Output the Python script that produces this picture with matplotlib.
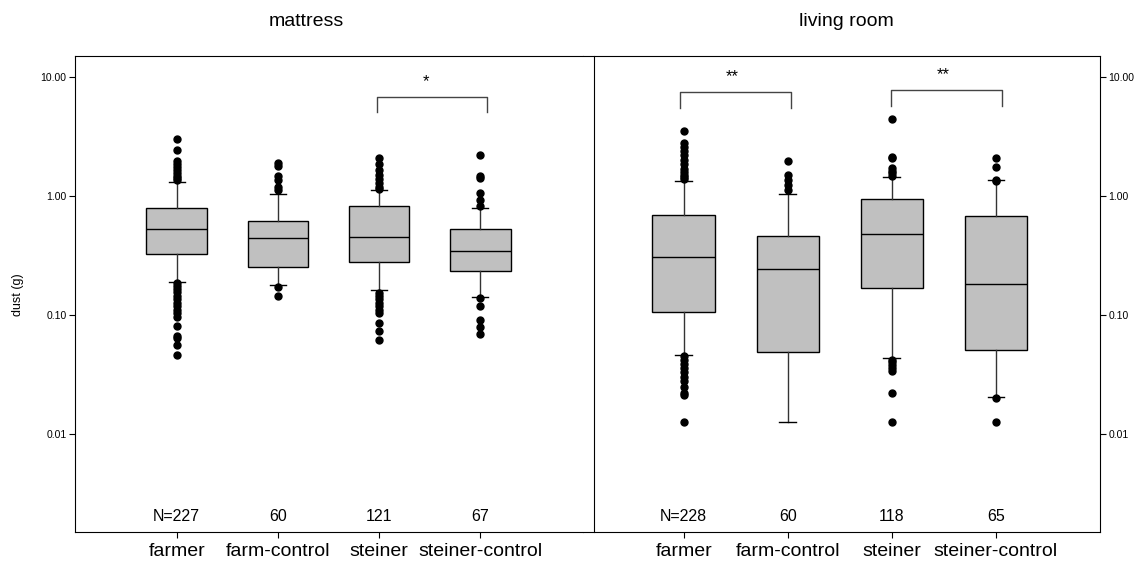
import matplotlib
matplotlib.use('Agg')
import matplotlib.pyplot as plt
import matplotlib.transforms as mtransforms

plt.rcParams['font.family'] = ['Liberation Sans', 'DejaVu Sans']

groups = ['farmer', 'farm-control', 'steiner', 'steiner-control']
positions = [1, 2, 3, 4]

# mattress
m_n = ['N=227', '60', '121', '67']
m_whislo = [0.191, 0.179, 0.161, 0.1425]
m_q1 = [0.326, 0.251, 0.277, 0.232]
m_med = [0.528, 0.444, 0.449, 0.342]
m_q3 = [0.787, 0.612, 0.818, 0.528]
m_whishi = [1.30, 1.045, 1.114, 0.793]
m_fliers = [
    [3.03, 2.41, 1.95, 1.85, 1.75, 1.65, 1.55, 1.48, 1.42, 1.36,
     0.185, 0.175, 0.165, 0.155, 0.145, 0.135, 0.125, 0.118, 0.11, 0.103, 0.097,
     0.080, 0.066, 0.064, 0.0564, 0.0464],
    [1.89, 1.77, 1.46, 1.37, 1.20, 1.13, 0.172, 0.143],
    [2.08, 1.85, 1.65, 1.5, 1.38, 1.28, 1.2, 1.15,
     0.154, 0.145, 0.135, 0.127, 0.118, 0.11, 0.104, 0.0857, 0.0738, 0.0612],
    [2.22, 1.46, 1.42, 1.06, 0.918, 0.818, 0.139, 0.118, 0.090, 0.0792, 0.0697],
]
m_sig = [(2.98, 4.07, 5.08, 6.83, '*', 3.46, 9.2)]

# living room
l_n = ['N=228', '60', '118', '65']
l_whislo = [0.0464, 0.0125, 0.0438, 0.0203]
l_q1 = [0.1066, 0.0489, 0.1675, 0.0508]
l_med = [0.307, 0.244, 0.482, 0.183]
l_q3 = [0.692, 0.464, 0.936, 0.674]
l_whishi = [1.336, 1.04, 1.43, 1.37]
l_fliers = [
    [3.49, 2.79, 2.6, 2.4, 2.2, 2.0, 1.85, 1.7, 1.6, 1.5, 1.45, 1.4,
     0.045, 0.042, 0.039, 0.036, 0.033, 0.030, 0.028, 0.025, 0.022, 0.0214, 0.0125],
    [1.98, 1.51, 1.35, 1.24, 1.13],
    [4.46, 2.14, 2.08, 1.72, 1.61, 1.55, 1.46,
     0.042, 0.040, 0.038, 0.036, 0.0336, 0.0221, 0.0126],
    [2.09, 1.75, 1.37, 1.33, 0.0200, 0.0126],
]
l_sig = [(0.964, 2.03, 5.48, 7.43, '**', 1.47, 10.1),
         (2.99, 4.055, 5.7, 7.78, '**', 3.49, 10.45)]

yticks = [0.01, 0.1, 1, 10]
ytick_labels = ['0.01', '0.10', '1.00', '10.00']


def make_stats(whislo, q1, med, q3, whishi, fliers):
    stats = []
    for i in range(len(med)):
        stats.append({'whislo': whislo[i], 'q1': q1[i], 'med': med[i], 'q3': q3[i],
                      'whishi': whishi[i], 'fliers': fliers[i]})
    return stats


def draw_panel(ax, stats, n_labels, sig):
    ax.bxp(stats, positions=positions, widths=0.6, patch_artist=True, manage_ticks=False,
           capwidths=0.16,
           boxprops=dict(facecolor='#c0c0c0', edgecolor='black', linewidth=1),
           medianprops=dict(color='black', linewidth=1),
           whiskerprops=dict(color='#333333', linewidth=1),
           capprops=dict(color='black', linewidth=1),
           flierprops=dict(marker='o', markerfacecolor='black', markeredgecolor='black',
                           markersize=5))
    ax.set_yscale('log')
    ax.set_ylim(0.0015, 15)
    ax.set_yticks(yticks)
    ax.set_yticklabels(ytick_labels)
    ax.minorticks_off()
    ax.set_xticks(positions)
    ax.set_xticklabels(groups, fontsize=14)
    ax.tick_params(axis='x', length=4, pad=4)
    ax.tick_params(axis='y', labelsize=7.5, length=4, pad=2)

    trans = mtransforms.blended_transform_factory(ax.transData, ax.transAxes)
    for p, lab in zip(positions, n_labels):
        ax.text(p, 0.032, lab, transform=trans, ha='center', va='center', fontsize=11.5)

    for x1, x2, ylo, yhi, star, xs, ys in sig:
        ax.plot([x1, x1, x2, x2], [ylo, yhi, yhi, ylo], color='#444444', linewidth=1)
        ax.text(xs, ys, star, ha='center', va='center', fontsize=12)


fig = plt.figure(figsize=(11.39, 5.67), dpi=100)
ax1 = fig.add_axes([75 / 1139, 35 / 567, 508 / 1139, 476 / 567])
ax2 = fig.add_axes([583 / 1139, 35 / 567, 517 / 1139, 476 / 567])

draw_panel(ax1, make_stats(m_whislo, m_q1, m_med, m_q3, m_whishi, m_fliers), m_n, m_sig)
draw_panel(ax2, make_stats(l_whislo, l_q1, l_med, l_q3, l_whishi, l_fliers), l_n, l_sig)

ax1.set_xlim(-0.005, 5.015)
ax1.spines['right'].set_visible(False)

ax2.set_xlim(0.033, 5.0)
ax2.yaxis.tick_right()
ax2.spines['left'].set_position(('data', 0.138))

fig.text(306.7 / 1139, 1 - 21 / 567, 'mattress', ha='center', va='center', fontsize=14)
fig.text(846 / 1139, 1 - 21 / 567, 'living room', ha='center', va='center', fontsize=14)
fig.text(18 / 1139, 1 - 295 / 567, 'dust (g)', rotation=90, ha='center', va='center', fontsize=9)

fig.savefig('out.png', dpi=100)
